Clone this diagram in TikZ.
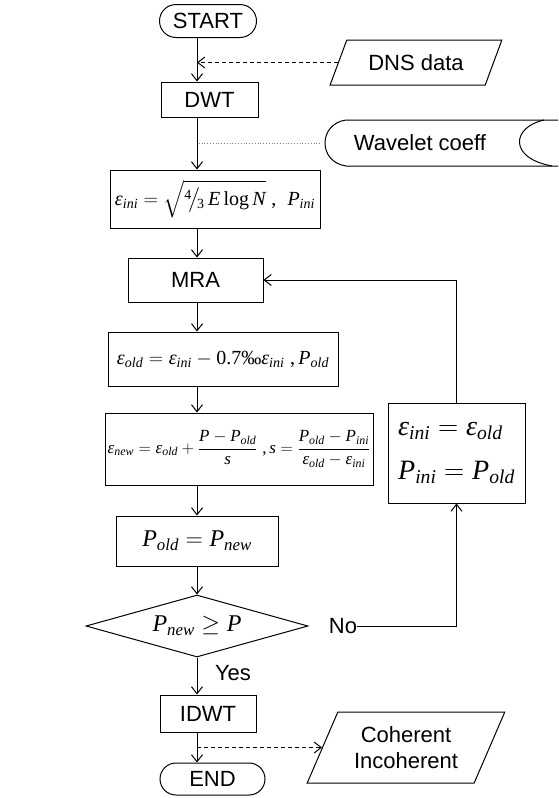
\documentclass[tikz,border=0pt]{standalone}
\usepackage{fix-cm}
\usepackage{amsmath}
\usepackage[no-math]{fontspec}
\setmainfont{Liberation Sans}
\newfontfamily\serifp{Liberation Serif}
\newcommand\tv[1]{\text{\serifp\itshape #1}}
\newcommand\tr[1]{\text{\serifp #1}}
\usetikzlibrary{shapes.geometric,shapes.misc,arrows.meta}
\begin{document}
\begin{tikzpicture}[x=1pt,y=-1pt,
  every node/.style={font=\fontsize{22}{26}\selectfont, inner sep=0pt},
  box/.style={draw, line width=1pt, rectangle},
  term/.style={draw, line width=1pt, rounded rectangle},
  io/.style={draw, line width=1pt, trapezium, trapezium stretches=true},
  flow/.style={line width=1pt, -{Straight Barb[length=7pt,width=11pt]}},
  dataflow/.style={flow, dash pattern=on 4pt off 3pt},
  thinline/.style={line width=0.8pt, gray, dotted},
]
\useasboundingbox (0,0) rectangle (558,798);
\coordinate (mx) at (197,0);

\node[term, minimum width=97pt, minimum height=33pt] (start) at (208,21) {START};
\node[io, trapezium left angle=54.6, trapezium right angle=125.4, minimum width=172pt, minimum height=45pt] (dns) at (416,62.5) {DNS data};
\node[box, minimum width=97pt, minimum height=35pt] (dwt) at (209.5,99.5) {DWT};

% stored data shape
\draw[line width=1pt] (558,120) -- (346,120) .. controls (318,124) and (318,162) .. (346,166) -- (558,166);
\draw[line width=1pt] (544,120) .. controls (512,127) and (508,158) .. (552,166);
\node (wave) at (420,143) {Wavelet coeff};
\coordinate (waveW) at (320,143);

\node[box, minimum width=210pt, minimum height=58pt, font=\fontsize{20}{24}\selectfont] (eq1) at (215,199)
  {$\tv{ε}_{\tv{ini}}=\sqrt{{}^{\tr{4}}\!\big/\!{}_{\tr{3}}\,\tv{E}\,\tr{log}\,\tv{N}}\ \tr{,}\ \ \tv{P}_{\tv{ini}}$};
\node[box, minimum width=135pt, minimum height=44pt] (mra) at (195.5,280) {MRA};
\node[box, minimum width=230pt, minimum height=54pt, font=\fontsize{20}{24}\selectfont] (eq2) at (223,359)
  {$\tv{ε}_{\tv{old}}=\tv{ε}_{\tv{ini}}-\tr{0.7‰}\tv{ε}_{\tv{ini}}\ \tr{,}\,\tv{P}_{\tv{old}}$};
\node[box, minimum width=268pt, minimum height=72pt, font=\fontsize{17}{21}\selectfont] (eq3) at (239,449)
  {$\tv{ε}_{\tv{new}}=\tv{ε}_{\tv{old}}+\dfrac{\tv{P}-\tv{P}_{\tv{old}}}{\tv{s}}\ \tr{,}\,\tv{s}=\dfrac{\tv{P}_{\tv{old}}-\tv{P}_{\tv{ini}}}{\tv{ε}_{\tv{old}}-\tv{ε}_{\tv{ini}}}$};
\node[box, minimum width=137pt, minimum height=100pt, align=left, font=\fontsize{28}{44}\selectfont] (fb) at (456.5,453)
  {$\tv{ε}_{\tv{ini}}=\tv{ε}_{\tv{old}}$\\$\tv{P}_{\tv{ini}}=\tv{P}_{\tv{old}}$};
\node[box, minimum width=162pt, minimum height=50pt, font=\fontsize{24}{28}\selectfont] (pold) at (197,541) {$\tv{P}_{\tv{old}}=\tv{P}_{\tv{new}}$};
\node[draw, line width=1pt, diamond, aspect=3.58, minimum width=222pt, minimum height=62pt, font=\fontsize{24}{28}\selectfont] (dia) at (197,626) {$\tv{P}_{\tv{new}}\ge \tv{P}$};
\node (no) at (343,626) {No};
\node (yes) at (233,673) {Yes};
\node[box, minimum width=96pt, minimum height=37pt] (idwt) at (208,713.5) {IDWT};
\node[term, minimum width=105pt, minimum height=32pt] (end) at (212.5,779) {END};
\node[io, trapezium left angle=61, trapezium right angle=119, minimum width=198pt, minimum height=71pt, align=center] (coh) at (406,747.5) {Coherent\\Incoherent};

\draw[flow] (start.south -| mx) -- (dwt.north -| mx);
\draw[dataflow] (dns.west) -- (dns.west -| mx);
\draw[flow] (dwt.south -| mx) -- (eq1.north -| mx);
\draw[thinline] (waveW) -- (waveW -| mx);
\draw[flow] (eq1.south -| mx) -- (mra.north -| mx);
\draw[flow] (mra.south -| mx) -- (eq2.north -| mx);
\draw[flow] (eq2.south -| mx) -- (eq3.north -| mx);
\draw[flow] (eq3.south -| mx) -- (pold.north -| mx);
\draw[flow] (pold.south -| mx) -- (dia.north);
\draw[flow] (dia.south) -- (idwt.north -| mx);
\draw[flow] (idwt.south -| mx) -- (end.north -| mx);
\draw[dataflow] (coh.west -| mx) -- (coh.west);
\draw[flow] (no.east) -| (fb.south);
\draw[flow] (fb.north) |- (mra.east);
\end{tikzpicture}
\end{document}
